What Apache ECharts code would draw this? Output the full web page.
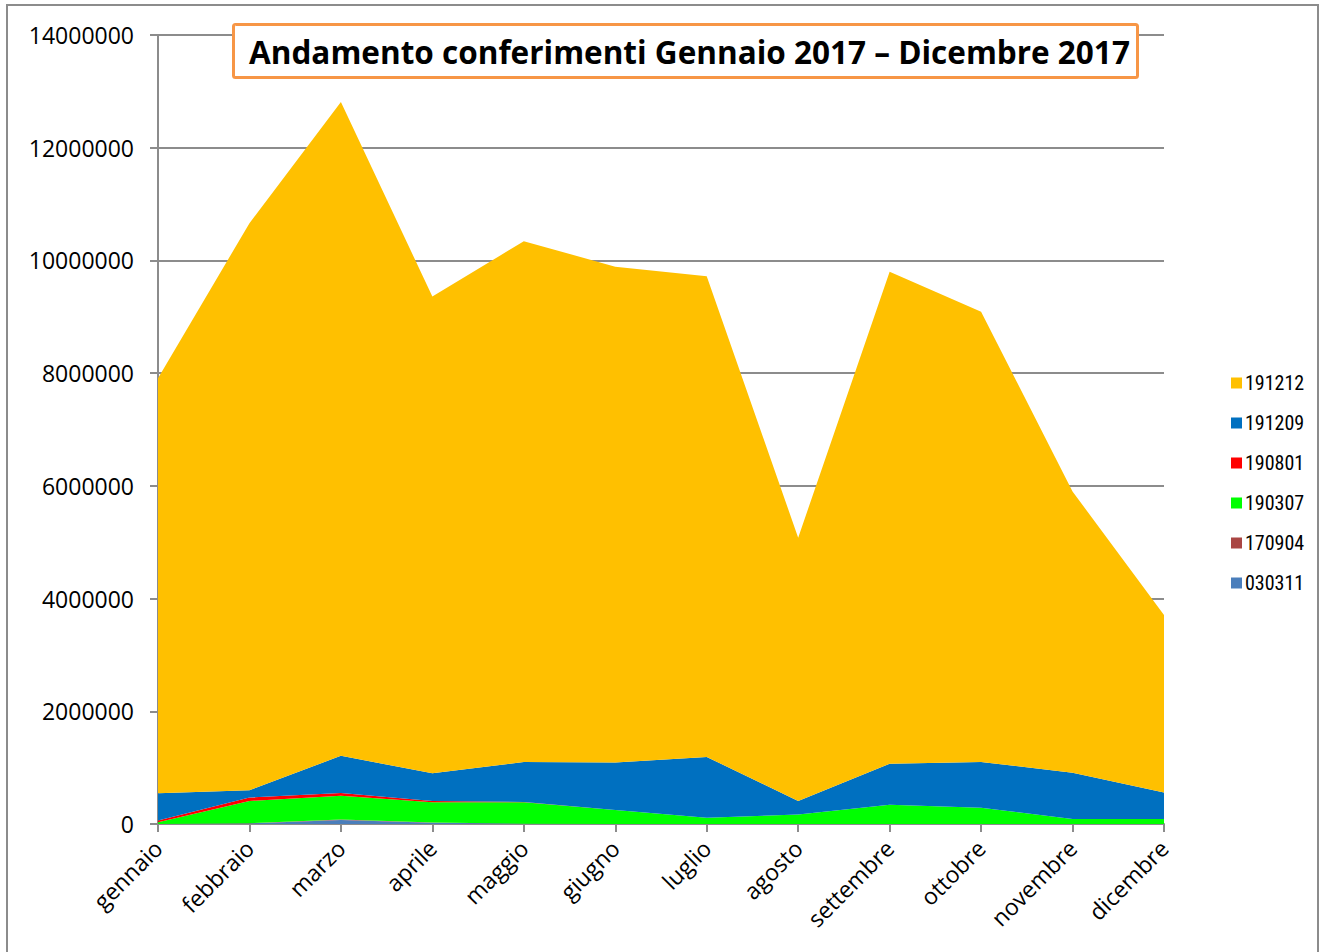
<!DOCTYPE html>
<html>
<head>
<meta charset="utf-8">
<script src="https://cdn.jsdelivr.net/npm/echarts@6/dist/echarts.min.js"></script>
<style>
  html, body { margin: 0; padding: 0; background: #fff; }
  #chart { width: 1328px; height: 952px; }
</style>
</head>
<body>
<div id="chart"></div>
<script>
  // months on the x axis
  const mesi = ['gennaio', 'febbraio', 'marzo', 'aprile', 'maggio', 'giugno',
    'luglio', 'agosto', 'settembre', 'ottobre', 'novembre', 'dicembre'];

  // quantities per waste code (stacked bottom -> top)
  const s030311 = [0, 10000, 70000, 20000, 5000, 0, 0, 0, 0, 0, 0, 0];
  const s170904 = [0, 5000, 10000, 5000, 0, 0, 0, 0, 0, 0, 0, 0];
  const s190307 = [30000, 395000, 420000, 360000, 380000, 250000, 110000, 170000, 340000, 290000, 90000, 90000];
  const s190801 = [30000, 60000, 50000, 25000, 5000, 0, 0, 0, 0, 0, 0, 0];
  const s191209 = [485000, 130000, 660000, 490000, 710000, 840000, 1080000, 240000, 730000, 810000, 820000, 470000];
  const s191212 = [7365000, 10060000, 11600000, 8460000, 9240000, 8800000, 8530000, 4670000, 8730000, 7990000, 4990000, 3150000];

  const yTicks = { min: 0, max: 14000000, step: 2000000 };

  const GRAY = '#8c8c8c';
  const FONT = '"Open Sans", sans-serif';
  const NARROW = '"Liberation Sans Narrow", "Roboto Condensed", "Liberation Sans", sans-serif';

  const seriesDefs = [
    { name: '030311', data: s030311, color: '#4a7ebb' },
    { name: '170904', data: s170904, color: '#aa4643' },
    { name: '190307', data: s190307, color: '#00ff00' },
    { name: '190801', data: s190801, color: '#ff0000' },
    { name: '191209', data: s191209, color: '#0070c0' },
    { name: '191212', data: s191212, color: '#ffc000' },
  ];

  const chart = echarts.init(document.getElementById('chart'), null, { renderer: 'svg' });
  chart.setOption({
    animation: false,
    title: {
      text: 'Andamento conferimenti Gennaio 2017 \u2013 Dicembre 2017',
      left: 233, top: 24,
      borderColor: '#f79646', borderWidth: 3, borderRadius: 2,
      backgroundColor: '#fff',
      padding: [10, 8, 10, 16],
      textStyle: { color: '#000', fontFamily: FONT, fontSize: 31.5, fontWeight: 'bold', lineHeight: 34 },
    },
    legend: {
      orient: 'vertical',
      left: 1226, top: 368,
      itemWidth: 11, itemHeight: 11, itemGap: 20,
      icon: 'rect',
      data: ['191212', '191209', '190801', '190307', '170904', '030311'],
      textStyle: { color: '#000', fontFamily: NARROW, fontSize: 20, padding: [0, 0, 0, -2] },
    },
    graphic: [{
      type: 'rect', silent: true, z: -1,
      shape: { x: 7, y: 5, width: 1311, height: 1000 },
      style: { fill: 'none', stroke: GRAY, lineWidth: 2 },
    }],
    grid: { left: 158, right: 164, top: 35, bottom: 128 },
    xAxis: {
      type: 'category', data: mesi, boundaryGap: false,
      axisLine: { lineStyle: { color: GRAY, width: 2 } },
      axisTick: { show: true, length: 8, lineStyle: { color: GRAY, width: 2 } },
      axisLabel: { rotate: 45, color: '#000', fontFamily: FONT, fontSize: 23, margin: 20 },
      splitLine: { show: false },
    },
    yAxis: {
      type: 'value', min: yTicks.min, max: yTicks.max, interval: yTicks.step,
      axisLine: { show: true, lineStyle: { color: GRAY, width: 2 } },
      axisTick: { show: true, length: 8, lineStyle: { color: GRAY, width: 2 } },
      axisLabel: { color: '#000', fontFamily: FONT, fontSize: 23, margin: 24,
        formatter: (v) => String(v) },
      splitLine: { show: true, lineStyle: { color: GRAY, width: 2 } },
    },
    series: seriesDefs.map((s) => ({
      name: s.name, type: 'line', stack: 'tot', data: s.data,
      showSymbol: false, symbol: 'none',
      lineStyle: { width: 0 },
      itemStyle: { color: s.color },
      areaStyle: { color: s.color, opacity: 1 },
    })),
  });
</script>
</body>
</html>
